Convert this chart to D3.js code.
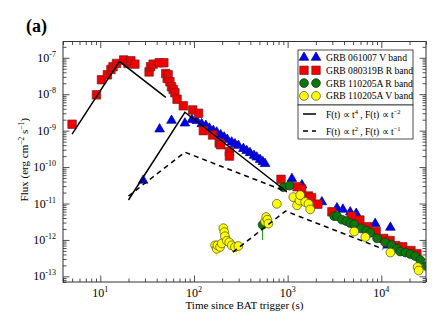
<!DOCTYPE html>
<html>
<head>
<meta charset="utf-8">
<script src="https://cdn.jsdelivr.net/npm/d3@7"></script>
<style>
  body { margin: 0; background: #fff; }
  svg { font-family: 'Liberation Serif', 'Times New Roman', serif; }
</style>
</head>
<body>
<div id="app"></div>
<script>
// GRB 061007 V band  [t (s), flux]
const grb061007V = [
  [28.7, 4.3e-11], [43, 1.1e-9], [57.6, 1.9e-9], [80, 1.6e-9], [95, 2.0e-9],
  [107, 1.88e-9], [121, 1.53e-9], [134, 1.37e-9], [146, 1.16e-9], [161, 1.0e-9],
  [175, 9.0e-10], [193, 7.6e-10], [210, 6.6e-10], [227, 5.7e-10], [253, 4.8e-10],
  [274, 4.3e-10], [298, 3.9e-10], [337, 3.2e-10], [366, 2.8e-10], [397, 2.45e-10],
  [438, 2.07e-10], [468, 1.86e-10], [508, 1.6e-10], [543, 1.4e-10], [575, 1.23e-10],
  [1110, 4.8e-11], [1420, 3.2e-11], [2320, 1.1e-11], [3360, 7.5e-12], [3890, 6.9e-12],
  [4660, 5.8e-12], [5400, 5.3e-12], [8600, 2.8e-12], [12500, 2.2e-12], [11700, 7.1e-13]
];

// GRB 080319B R band
const grb080319B = [
  [5.0, 1.5e-9], [9.1, 9.6e-9], [10.3, 2.5e-8], [11.9, 3.4e-8], [13.0, 4.8e-8],
  [13.7, 5.7e-8], [14.9, 7.0e-8], [17.8, 8.7e-8], [19.8, 7.0e-8], [21.2, 8.3e-8],
  [23.4, 6.7e-8], [33.2, 4.1e-8], [34.4, 5.7e-8], [36.7, 6.7e-8], [42.6, 7.3e-8],
  [47.7, 7.3e-8], [50, 3.7e-8], [51.8, 2.7e-8], [53, 3.4e-8], [55.4, 2.2e-8],
  [57.6, 1.6e-8], [60, 1.35e-8], [62.6, 1.1e-8], [66, 7.3e-9], [77, 4.8e-9],
  [97, 3.7e-9], [112, 3.0e-9], [126, 1.0e-9], [158, 7.6e-10], [186, 4.6e-10],
  [193, 4.1e-10], [239, 2.65e-10], [239, 2.0e-10], [850, 4.6e-11], [1260, 2.9e-11],
  [1410, 2.5e-11], [1670, 1.6e-11], [1800, 1.45e-11], [2100, 9.6e-12], [2970, 5.9e-12],
  [4780, 4.5e-12], [5900, 3.5e-12], [7100, 2.3e-12], [8800, 1.7e-12], [10600, 1.1e-12],
  [12400, 9.6e-13], [14200, 7e-13], [16900, 6.5e-13], [20700, 5.1e-13], [24000, 4.2e-13]
];

// GRB 110205A R band
const grb110205R = [
  [540, 2.6e-12], [900, 2.8e-11], [1050, 3.1e-11], [3140, 4.5e-12], [3360, 4.5e-12],
  [3800, 3.6e-12], [4230, 3.3e-12], [4660, 2.9e-12], [5140, 2.7e-12], [6060, 2.07e-12],
  [6920, 1.8e-12], [7630, 1.57e-12], [9000, 1.1e-12], [11000, 8.5e-13], [12800, 7.2e-13],
  [14700, 5.8e-13], [15900, 4.8e-13], [18100, 4.5e-13], [20400, 4.1e-13], [23100, 3.6e-13],
  [26100, 2.8e-13], [30500, 1.9e-13]
];
const grb110205RErr = [[540, 1e-12, 2.6e-12]];

// GRB 110205A V band
const grb110205V = [
  [168, 7.1e-13], [175, 5.7e-13], [178, 7.1e-13], [190, 6.4e-13], [198, 8e-13],
  [206, 2.1e-12], [211, 1.64e-12], [214, 1.26e-12], [224, 9.5e-13], [238, 8.6e-13],
  [253, 7.1e-13], [274, 6.4e-13], [298, 6.8e-13], [575, 3.2e-12], [590, 4.25e-12],
  [608, 3.6e-12], [623, 2.8e-12], [767, 9.8e-12], [1150, 1.5e-11], [1260, 8.9e-12],
  [1340, 1.2e-11], [1360, 1.7e-11], [1540, 1.1e-11], [1670, 9.8e-12], [1740, 6.9e-12],
  [5140, 1.7e-12], [6750, 1.2e-12], [12500, 4.5e-13], [24400, 1.8e-13], [25100, 1.45e-13]
];
const grb110205VErr = [
  [174, 3.6e-13, 5.7e-13], [205, 4e-13, 6.4e-13], [283, 3.8e-13, 6.4e-13], [304, 4e-13, 6.8e-13]
];

// model curves
const solidA = [[5, 8e-10], [16, 8e-8], [50, 8.2e-9]];
const solidB = [[20, 1.25e-11], [80, 3.2e-9], [980, 2.1e-11]];
const dashedA = [[20, 1.6e-11], [80, 2.56e-10], [980, 2.1e-11]];
const dashedB = [[260, 4.6e-13], [950, 6.2e-12], [10500, 5.6e-13]];

const xMajor = [10, 100, 1000, 10000];
const xMajorExp = ['1', '2', '3', '4'];
const yMajor = [1e-13, 1e-12, 1e-11, 1e-10, 1e-9, 1e-8, 1e-7];
const yMajorExp = ['-13', '-12', '-11', '-10', '-9', '-8', '-7'];

const legendItems = ['GRB 061007 V band', 'GRB 080319B R band', 'GRB 110205A R band', 'GRB 110205A V band'];

const svg = d3.select('#app').append('svg')
    .attr('width', 443)
    .attr('height', 332);

const pl = 63, pr = 426, pt = 41.5, pb = 282;

const x = d3.scaleLog().domain([4, 3e4]).range([pl, pr]);
const y = d3.scaleLog().domain([7e-14, 2.8e-7]).range([pb, pt]);

svg.append('defs').append('clipPath').attr('id', 'clip')
  .append('rect').attr('x', pl).attr('y', pt)
  .attr('width', pr - pl).attr('height', pb - pt);

const xMinor = x.ticks().filter(v => !xMajor.includes(v));
const yMinor = y.ticks().filter(v => !yMajor.some(m => Math.abs(m - v) / m < 1e-6));

function ticks(axis, vals, size) {
  return axis.tickValues(vals).tickSize(size).tickFormat('');
}

const axes = svg.append('g').attr('class', 'axes');
const addAxis = (gen, tr) => {
  const a = axes.append('g').attr('transform', tr).call(gen);
  a.select('.domain').remove();
  a.selectAll('line').attr('stroke', '#222').attr('stroke-width', 0.8);
};
addAxis(ticks(d3.axisBottom(x), xMinor, -3.5), `translate(0,${pb})`);
addAxis(ticks(d3.axisBottom(x), xMajor, -6.5), `translate(0,${pb})`);
addAxis(ticks(d3.axisTop(x), xMinor, -3.5), `translate(0,${pt})`);
addAxis(ticks(d3.axisTop(x), xMajor, -6.5), `translate(0,${pt})`);
addAxis(ticks(d3.axisLeft(y), yMinor, -3.5), `translate(${pl},0)`);
addAxis(ticks(d3.axisLeft(y), yMajor, -6.5), `translate(${pl},0)`);
addAxis(ticks(d3.axisRight(y), yMinor, -3.5), `translate(${pr},0)`);
addAxis(ticks(d3.axisRight(y), yMajor, -6.5), `translate(${pr},0)`);

// tick labels
xMajor.forEach((v, i) => {
  const t = svg.append('text')
    .attr('x', x(v)).attr('y', 297)
    .attr('text-anchor', 'middle')
    .attr('font-size', 12);
  t.append('tspan').text('10');
  t.append('tspan').attr('dy', -5).attr('font-size', 8).text(xMajorExp[i]);
});
yMajor.forEach((v, i) => {
  const t = svg.append('text')
    .attr('x', 56).attr('y', y(v) + 4)
    .attr('text-anchor', 'end')
    .attr('font-size', 12);
  t.append('tspan').text('10');
  t.append('tspan').attr('dy', -5).attr('font-size', 8).text(yMajorExp[i]);
});

// axis titles
svg.append('text')
  .attr('x', (pl + pr) / 2).attr('y', 308.5)
  .attr('text-anchor', 'middle')
  .attr('font-size', 11)
  .text('Time since BAT trigger (s)');

const yl = svg.append('text')
  .attr('transform', `translate(28,${(pt + pb) / 2 - 2}) rotate(-90)`)
  .attr('text-anchor', 'middle')
  .attr('font-size', 11);
yl.append('tspan').text('Flux (erg cm');
yl.append('tspan').attr('dy', -4).attr('font-size', 7.5).text('\u22122');
yl.append('tspan').attr('dy', 4).text(' s');
yl.append('tspan').attr('dy', -4).attr('font-size', 7.5).text('\u22121');
yl.append('tspan').attr('dy', 4).text(')');

svg.append('text')
  .attr('x', 26).attr('y', 32)
  .attr('font-size', 18).attr('font-weight', 'bold')
  .text('(a)');

// markers
const plot = svg.append('g').attr('clip-path', 'url(#clip)');

const triangle = d3.symbol().type(d3.symbolTriangle).size(40);
const square = d3.symbol().type(d3.symbolSquare).size(72);

const styles = [
  { data: grb061007V, fill: '#0000f0', stroke: '#000080', shape: 'tri' },
  { data: grb080319B, fill: '#f00000', stroke: '#7a2020', shape: 'sq' },
  { data: grb110205R, fill: '#0a780a', stroke: '#1c2a1c', shape: 'circ' },
  { data: grb110205V, fill: '#ffff00', stroke: '#4a4a20', shape: 'circ' }
];

function drawMarker(sel, s) {
  if (s.shape === 'circ') {
    sel.append('circle').attr('r', 4.4);
  } else {
    sel.append('path').attr('d', s.shape === 'tri' ? triangle : square);
  }
  sel.selectAll('*').attr('fill', s.fill).attr('stroke', s.stroke).attr('stroke-width', 0.7);
}

// error bars
plot.selectAll('.errG').data(grb110205RErr).enter().append('line')
  .attr('x1', d => x(d[0])).attr('x2', d => x(d[0]))
  .attr('y1', d => y(d[1])).attr('y2', d => y(d[2]))
  .attr('stroke', '#1a9a1a').attr('stroke-width', 1);
plot.selectAll('.errV').data(grb110205VErr).enter().append('line')
  .attr('x1', d => x(d[0])).attr('x2', d => x(d[0]))
  .attr('y1', d => y(d[1])).attr('y2', d => y(d[2]))
  .attr('stroke', '#f0f060').attr('stroke-width', 1);

styles.forEach(s => {
  plot.append('g').selectAll('g').data(s.data).enter().append('g')
    .attr('transform', d => `translate(${x(d[0])},${y(d[1])})`)
    .each(function() { drawMarker(d3.select(this), s); });
});

// model lines
const line = d3.line().x(d => x(d[0])).y(d => y(d[1]));
[solidA, solidB].forEach(l => plot.append('path').attr('d', line(l))
  .attr('fill', 'none').attr('stroke', '#000').attr('stroke-width', 1.5));
[dashedA, dashedB].forEach(l => plot.append('path').attr('d', line(l))
  .attr('fill', 'none').attr('stroke', '#000').attr('stroke-width', 1.5)
  .attr('stroke-dasharray', '5,4'));

// frame
svg.append('rect')
  .attr('x', pl).attr('y', pt)
  .attr('width', pr - pl).attr('height', pb - pt)
  .attr('fill', 'none').attr('stroke', '#333').attr('stroke-width', 1);

// legend
const lg = svg.append('g');
lg.append('rect').attr('x', 298).attr('y', 50).attr('width', 115).attr('height', 55)
  .attr('fill', '#fff').attr('stroke', '#222').attr('stroke-width', 0.8);
lg.append('rect').attr('x', 298).attr('y', 105).attr('width', 115).attr('height', 34)
  .attr('fill', '#fff').attr('stroke', '#222').attr('stroke-width', 0.8);

legendItems.forEach((name, i) => {
  const yy = 57.5 + i * 12.8;
  [304, 316].forEach(xx => {
    const m = lg.append('g').attr('transform', `translate(${xx},${yy})`);
    drawMarker(m, styles[i]);
  });
  lg.append('text').attr('x', 326).attr('y', yy + 3.5)
    .attr('font-size', 9.6).text(name);
});

const lineRows = [
  { y: 114, dash: null, e1: '4', e2: '\u22122' },
  { y: 131, dash: '5,4', e1: '2', e2: '\u22121' }
];
lineRows.forEach(r => {
  lg.append('line').attr('x1', 303).attr('x2', 316).attr('y1', r.y).attr('y2', r.y)
    .attr('stroke', '#000').attr('stroke-width', 1.5)
    .attr('stroke-dasharray', r.dash);
  const t = lg.append('text').attr('x', 326).attr('y', r.y + 3.5).attr('font-size', 9.5);
  t.append('tspan').text('F(t) \u221d t');
  t.append('tspan').attr('dy', -4).attr('font-size', 6.5).text(r.e1);
  t.append('tspan').attr('dy', 4).text(' , F(t) \u221d t');
  t.append('tspan').attr('dy', -4).attr('font-size', 6.5).text(r.e2);
});
</script>
</body>
</html>
